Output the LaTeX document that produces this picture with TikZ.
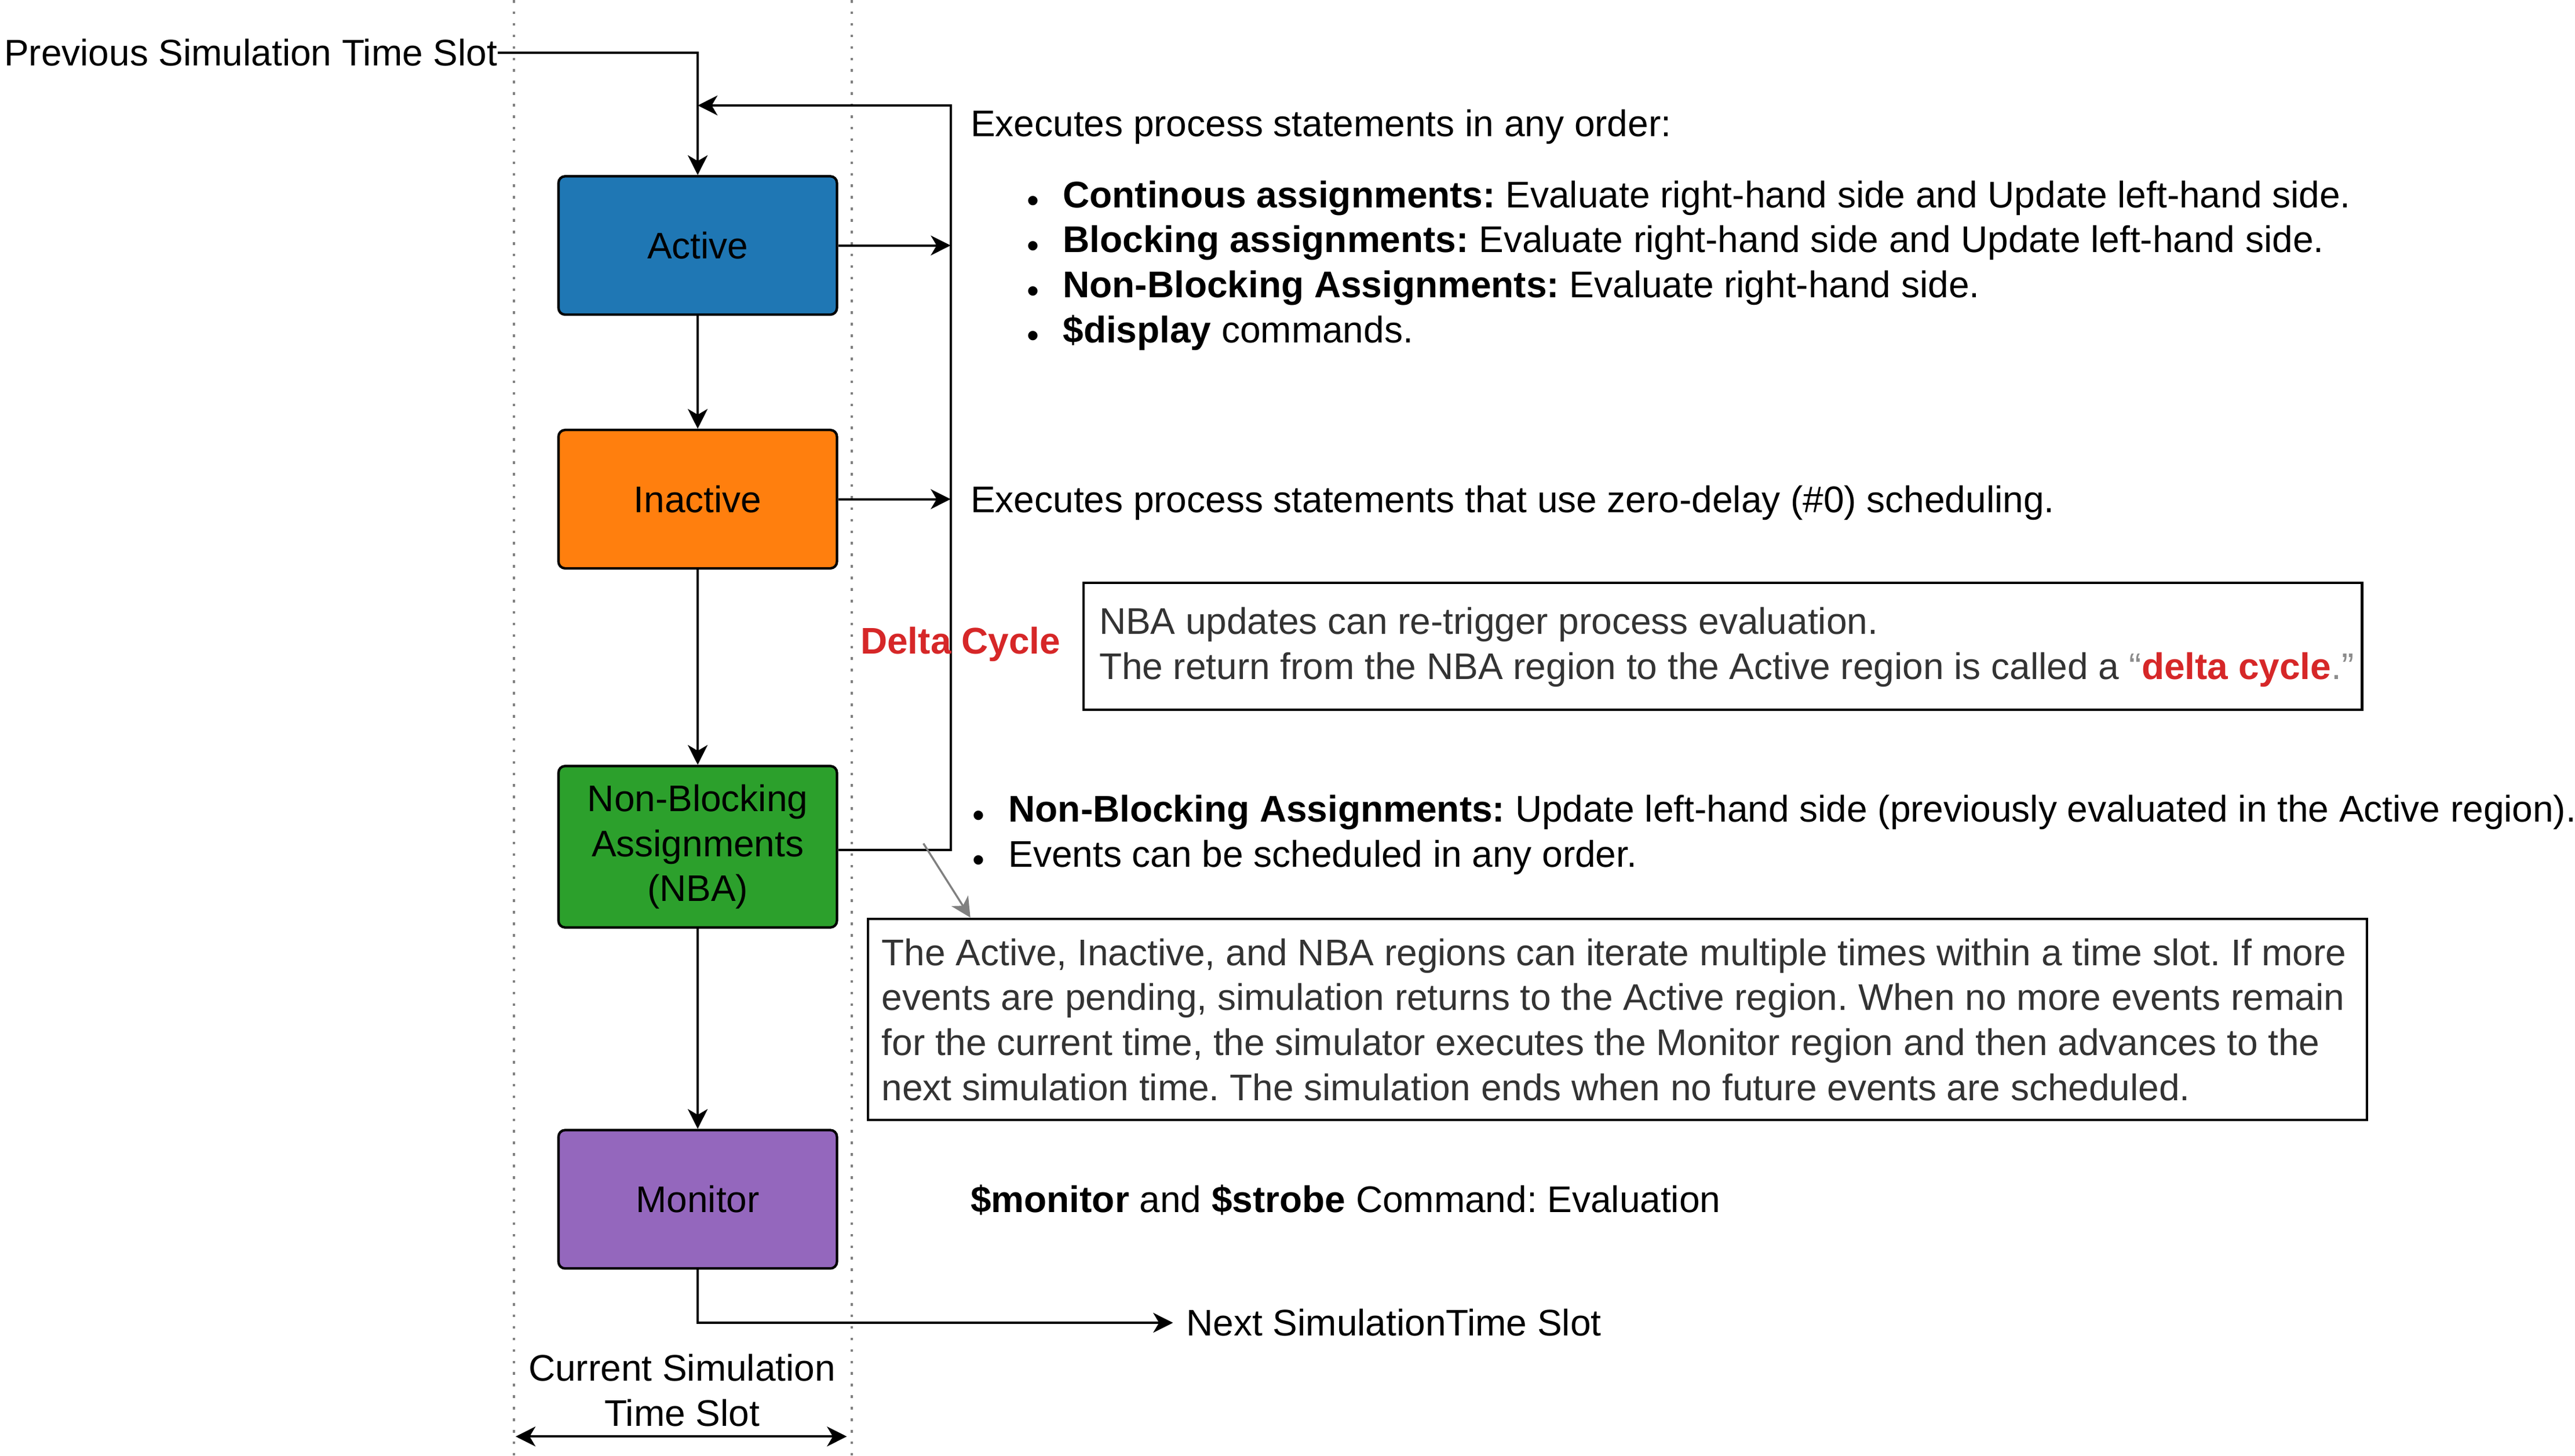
\documentclass[tikz,border=0pt]{standalone}
\usepackage{fontspec}
\setmainfont{Liberation Sans}
\usetikzlibrary{arrows.meta}
\frenchspacing
\definecolor{cActive}{HTML}{1F77B4}
\definecolor{cInactive}{HTML}{FF7F0E}
\definecolor{cNBA}{HTML}{2CA02C}
\definecolor{cMonitor}{HTML}{9467BD}
\definecolor{cRed}{HTML}{D62728}
\definecolor{cNote}{HTML}{333333}
\definecolor{cGray}{HTML}{808080}
\definecolor{cQuote}{HTML}{8C8C8C}
\tikzset{
  every node/.style={font=\fontsize{22.5pt}{27.3pt}\selectfont\frenchspacing},
  region/.style={draw=black, line width=1.5pt, rounded corners=4pt, minimum width=169pt, minimum height=84pt, align=center, inner sep=0pt, text=black},
  txt/.style={inner sep=0pt, anchor=base west},
  bul/.style={inner sep=0pt, anchor=base, font=\fontsize{21pt}{24pt}\selectfont},
  notebox/.style={draw=black, line width=1.5pt, anchor=north west, inner sep=0pt},
  notetxt/.style={inner sep=0pt, anchor=base west, text=cNote},
  tipA/.tip={Stealth[length=12pt, width=12pt, inset=3.5pt]},
  conn/.style={line width=1.4pt, -tipA},
  dotline/.style={draw=cGray, line width=1.2pt, dash pattern=on 1.6pt off 5.4pt},
}
\begin{document}
\begin{tikzpicture}[x=1pt, y=-1pt]
\useasboundingbox (0,0) rectangle (1563,883.5);

% time slot boundaries
\draw[dotline] (312,0) -- (312,883.5);
\draw[dotline] (517,0) -- (517,883.5);

% regions
\node[region, fill=cActive] (active) at (423.5,149) {Active};
\node[region, fill=cInactive] (inactive) at (423.5,303) {Inactive};
\node[region, fill=cNBA, minimum height=98pt] (nba) at (423.5,514) {Non-Blocking\\Assignments\\(NBA)};
\node[region, fill=cMonitor] (monitor) at (423.5,728) {Monitor};

% labels
\node[inner sep=0pt, anchor=base east] (prev) at (302,40) {Previous Simulation Time Slot};
\node[txt] (next) at (720,811) {Next SimulationTime Slot};
\node[inner sep=0pt, align=center] (cur) at (414,844) {Current Simulation\\Time Slot};

% coordinates
\coordinate (bus) at (577,0);
\coordinate (fb) at (423.5,64);
\coordinate (dl) at (313,872);
\coordinate (dr) at (514,872);

% connectors
\draw[line width=1.4pt] (prev.east) -| (fb);
\draw[conn] (fb) -- (active.north);
\draw[conn] (active.south) -- (inactive.north);
\draw[conn] (inactive.south) -- (nba.north);
\draw[conn] (nba.south) -- (monitor.north);
\draw[conn] ([yshift=-2pt]nba.east) -- ([yshift=-2pt]nba.east -| bus) |- (fb);
\draw[conn] (active.east) -- (active.east -| bus);
\draw[conn] (inactive.east) -- (inactive.east -| bus);
\draw[conn] (monitor.south) |- ([xshift=-8pt]next.west);
\draw[line width=1.4pt, tipA-tipA] (dl) -- (dr);

% Active description
\node[txt] (actd) at (589,83) {Executes process statements in any order:};
\node[bul] (b1) at (627,129) {•};
\node[txt] (a1) at (645,126) {\textbf{Continous assignments:} Evaluate right-hand side and Update left-hand side.};
\node[bul] (b2) at (627,156.3) {•};
\node[txt] (a2) at (645,153.3) {\textbf{Blocking assignments:} Evaluate right-hand side and Update left-hand side.};
\node[bul] (b3) at (627,183.6) {•};
\node[txt] (a3) at (645,180.6) {\textbf{Non-Blocking Assignments:} Evaluate right-hand side.};
\node[bul] (b4) at (627,210.9) {•};
\node[txt] (a4) at (645,207.9) {\textbf{\$display} commands.};

% Inactive description
\node[txt] (inad) at (589,311) {Executes process statements that use zero-delay (\#0) scheduling.};

% Delta cycle
\node[inner sep=0pt, anchor=base, text=cRed, font=\fontsize{22.5pt}{27.3pt}\selectfont\bfseries] (delta) at (583,397) {Delta Cycle};

% note 1
\node[notebox, minimum width=776pt, minimum height=77pt] (n1) at (657,353) {};
\node[notetxt] (n1a) at (667,385) {NBA updates can re-trigger process evaluation.};
\node[notetxt] (n1b) at (667,412.3) {The return from the NBA region to the Active region is called a \textcolor{cQuote}{“}\textcolor{cRed}{\textbf{delta cycle}}\textcolor{cQuote}{.”}};

% NBA description
\node[bul] (b5) at (594,502) {•};
\node[txt] (nb1) at (612,499) {\textbf{Non-Blocking Assignments:} Update left-hand side (previously evaluated in the Active region).};
\node[bul] (b6) at (594,529.3) {•};
\node[txt] (nb2) at (612,526.3) {Events can be scheduled in any order.};

% note 2
\node[notebox, minimum width=910pt, minimum height=122pt] (n2) at (526,557) {};
\node[notetxt] (n2a) at (535,586) {The Active, Inactive, and NBA regions can iterate multiple times within a time slot. If more};
\node[notetxt] (n2b) at (535,613.3) {events are pending, simulation returns to the Active region. When no more events remain};
\node[notetxt] (n2c) at (535,640.6) {for the current time, the simulator executes the Monitor region and then advances to the};
\node[notetxt] (n2d) at (535,667.9) {next simulation time. The simulation ends when no future events are scheduled.};
\coordinate (gstart) at (560.5,512);
\draw[draw=cGray, line width=1.2pt, -{Stealth[length=12pt, width=12pt, inset=3.5pt]}] (gstart) -- ([xshift=63pt]n2.north west);

% Monitor description
\node[txt] (mond) at (589,736) {\textbf{\$monitor} and \textbf{\$strobe} Command: Evaluation};
\end{tikzpicture}
\end{document}
